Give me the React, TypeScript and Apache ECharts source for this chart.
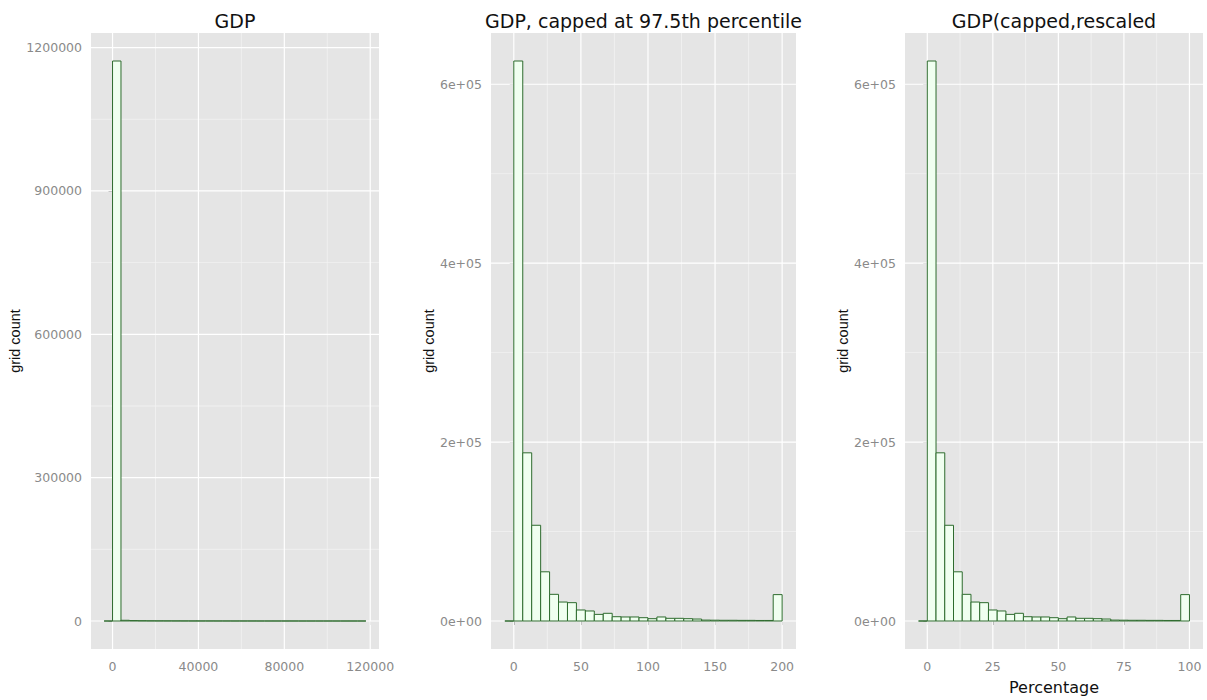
import React, { useEffect, useRef } from "react";
import * as echarts from "echarts";

// ---------- data ----------
const gdpBinStart = -3933;
const gdpBinWidth = 3933;
const gdpCounts = [
  0, 1172000, 1500, 900, 600, 450, 350, 300, 250, 200, 180, 160, 140, 120, 100, 90,
  80, 70, 60, 50, 45, 40, 35, 30, 25, 20, 15, 12, 10, 8, 5,
];

const cappedBinStart = -200 / 30;
const cappedBinWidth = 200 / 30;
const cappedCounts = [
  0, 626000, 188000, 107000, 55000, 29800, 21200, 20500, 12300, 11200, 7400, 8600, 4800,
  4500, 4500, 3700, 2600, 4500, 3000, 3000, 2600, 2200, 1000, 900, 800, 800, 700, 700,
  600, 600, 29500,
];

const rescaledBinStart = -100 / 30;
const rescaledBinWidth = 100 / 30;
const rescaledCounts = [
  0, 626000, 188000, 107000, 55000, 29800, 21200, 20500, 12300, 11200, 7400, 8600, 4800,
  4500, 4500, 3700, 2600, 4500, 3000, 3000, 2600, 2200, 1000, 900, 800, 800, 700, 700,
  600, 600, 29500,
];

const gdpXTicks = [0, 40000, 80000, 120000];
const gdpXMinor = [20000, 60000, 100000];
const gdpYTicks = [0, 300000, 600000, 900000, 1200000];
const gdpYMinor = [150000, 450000, 750000, 1050000];

const cappedXTicks = [0, 50, 100, 150, 200];
const cappedXMinor = [25, 75, 125, 175];
const countYTicks = [0, 200000, 400000, 600000];
const countYMinor = [100000, 300000, 500000];

const rescaledXTicks = [0, 25, 50, 75, 100];
const rescaledXMinor = [12.5, 37.5, 62.5, 87.5];

const titles = ["GDP", "GDP, capped at 97.5th percentile", "GDP(capped,rescaled"];
const yTitle = "grid count";
const xTitle3 = "Percentage";

// ---------- helpers ----------
function sci(v: number): string {
  const s = v.toExponential(0);
  const [m, e] = s.split("e");
  const ei = parseInt(e, 10);
  return m + "e" + (ei < 0 ? "-" : "+") + String(Math.abs(ei)).padStart(2, "0");
}

function bins(start: number, width: number, counts: number[]) {
  return counts.map((c, i) => [start + i * width, start + (i + 1) * width, c]);
}

const TICK_COLOR = "#8a8a8a";
const LABEL_FONT = "DejaVu Sans";

export default function App() {
  const ref = useRef<HTMLDivElement>(null);

  useEffect(() => {
    if (!ref.current) return;
    const chart = echarts.init(ref.current, undefined, { renderer: "svg" });

    const panels = [
      {
        data: bins(gdpBinStart, gdpBinWidth, gdpCounts),
        xTicks: gdpXTicks, xMinor: gdpXMinor, yTicks: gdpYTicks, yMinor: gdpYMinor,
        yFmt: (v: number) => String(v), xFmt: (v: number) => String(v),
        left: 91, width: 288, yNameGap: 68, xName: "", ownXLabels: true,
      },
      {
        data: bins(cappedBinStart, cappedBinWidth, cappedCounts),
        xTicks: cappedXTicks, xMinor: cappedXMinor, yTicks: countYTicks, yMinor: countYMinor,
        yFmt: sci, xFmt: (v: number) => String(v),
        left: 491, width: 305, yNameGap: 52, xName: "", ownXLabels: false,
      },
      {
        data: bins(rescaledBinStart, rescaledBinWidth, rescaledCounts),
        xTicks: rescaledXTicks, xMinor: rescaledXMinor, yTicks: countYTicks, yMinor: countYMinor,
        yFmt: sci, xFmt: (v: number) => String(v),
        left: 905, width: 298, yNameGap: 53, xName: xTitle3, ownXLabels: false,
      },
    ];

    const grids: any[] = [];
    const xAxes: any[] = [];
    const yAxes: any[] = [];
    const series: any[] = [];
    const graphics: any[] = [];

    panels.forEach((p, idx) => {
      const xs = p.data.flatMap((d) => [d[0], d[1]]);
      const dxMin = Math.min(...xs);
      const dxMax = Math.max(...xs);
      const padX = (dxMax - dxMin) * 0.05;
      const xMin = dxMin - padX;
      const xMax = dxMax + padX;
      const dyMax = Math.max(...p.data.map((d) => d[2]));
      const padY = dyMax * 0.05;
      const yMin = -padY;
      const yMax = dyMax + padY;

      grids.push({
        left: p.left, width: p.width, top: 33, height: 616,
        show: true, backgroundColor: "#E5E5E5", borderWidth: 0, containLabel: false,
      });

      xAxes.push({
        type: "value", gridIndex: idx, min: xMin, max: xMax,
        axisLine: { show: false },
        axisTick: { show: true, customValues: p.xTicks, length: 4, lineStyle: { color: TICK_COLOR, width: 1 } },
        axisLabel: {
          show: !p.ownXLabels, customValues: p.xTicks, formatter: p.xFmt, margin: 11,
          color: TICK_COLOR, fontSize: 12.5, fontFamily: LABEL_FONT,
        },
        splitLine: { show: false },
        minorSplitLine: { show: false },
        name: p.xName, nameLocation: "middle", nameGap: 30,
        nameTextStyle: { color: "#111", fontSize: 16, fontFamily: LABEL_FONT },
      });

      yAxes.push({
        type: "value", gridIndex: idx, min: yMin, max: yMax,
        axisLine: { show: false },
        axisTick: { show: true, customValues: p.yTicks, length: 4, lineStyle: { color: TICK_COLOR, width: 1 } },
        axisLabel: {
          show: true, customValues: p.yTicks, formatter: p.yFmt, margin: 9,
          color: TICK_COLOR, fontSize: 12.5, fontFamily: LABEL_FONT,
        },
        splitLine: { show: false },
        name: yTitle, nameLocation: "middle", nameGap: p.yNameGap, nameRotate: 90,
        nameTextStyle: { color: "#111", fontSize: 14.5, fontFamily: "Liberation Sans" },
      });

      const lineSeries = (values: number[], dir: "v" | "h", color: string, width: number) => ({
        type: "custom", xAxisIndex: idx, yAxisIndex: idx, z: 1, silent: true,
        data: values.map((v) => (dir === "v" ? [v, 0] : [0, v])),
        encode: { x: 0, y: 1 },
        renderItem: (_params: any, api: any) => {
          const v = api.value(dir === "v" ? 0 : 1);
          const a = dir === "v" ? api.coord([v, yMin]) : api.coord([xMin, v]);
          const b = dir === "v" ? api.coord([v, yMax]) : api.coord([xMax, v]);
          return {
            type: "line",
            shape: { x1: a[0], y1: a[1], x2: b[0], y2: b[1] },
            style: { stroke: color, lineWidth: width },
          };
        },
      });

      series.push(lineSeries(p.xMinor, "v", "#F2F2F2", 0.8));
      series.push(lineSeries(p.yMinor, "h", "#F2F2F2", 0.8));
      series.push(lineSeries(p.xTicks, "v", "#FFFFFF", 1.2));
      series.push(lineSeries(p.yTicks, "h", "#FFFFFF", 1.2));

      if (p.ownXLabels) {
        series.push({
          type: "custom", xAxisIndex: idx, yAxisIndex: idx, z: 2, silent: true, clip: false,
          data: p.xTicks.map((v) => [v, 0]),
          encode: { x: 0, y: 1 },
          renderItem: (_params: any, api: any) => {
            const v = api.value(0);
            const a = api.coord([v, yMin]);
            return {
              type: "text",
              x: a[0], y: a[1] + 11,
              style: {
                text: p.xFmt(v), fill: TICK_COLOR, fontSize: 12.5, fontFamily: LABEL_FONT,
                textAlign: "center", textVerticalAlign: "top",
              },
            };
          },
        });
      }

      series.push({
        type: "custom", xAxisIndex: idx, yAxisIndex: idx, z: 3, silent: true,
        data: p.data,
        encode: { x: [0, 1], y: 2 },
        renderItem: (_params: any, api: any) => {
          const a = api.coord([api.value(0), 0]);
          const b = api.coord([api.value(1), api.value(2)]);
          return {
            type: "polygon",
            shape: { points: [[a[0], a[1]], [a[0], b[1]], [b[0], b[1]], [b[0], a[1]]] },
            style: { fill: "#F0FFF0", stroke: "#2E6B2E", lineWidth: 1 },
          };
        },
      });

      graphics.push({
        type: "text",
        x: p.left + p.width / 2, y: 21,
        style: {
          text: titles[idx], fill: "#111", fontSize: 19, fontFamily: LABEL_FONT,
          textAlign: "center", textVerticalAlign: "middle",
        },
      });
    });

    chart.setOption({
      animation: false,
      backgroundColor: "#FFFFFF",
      grid: grids,
      xAxis: xAxes,
      yAxis: yAxes,
      series,
      graphic: graphics,
    });

    return () => chart.dispose();
  }, []);

  return (
    <div
      ref={ref}
      style={{ position: "fixed", left: 0, top: 0, width: 1207, height: 700, background: "#fff" }}
    />
  );
}
